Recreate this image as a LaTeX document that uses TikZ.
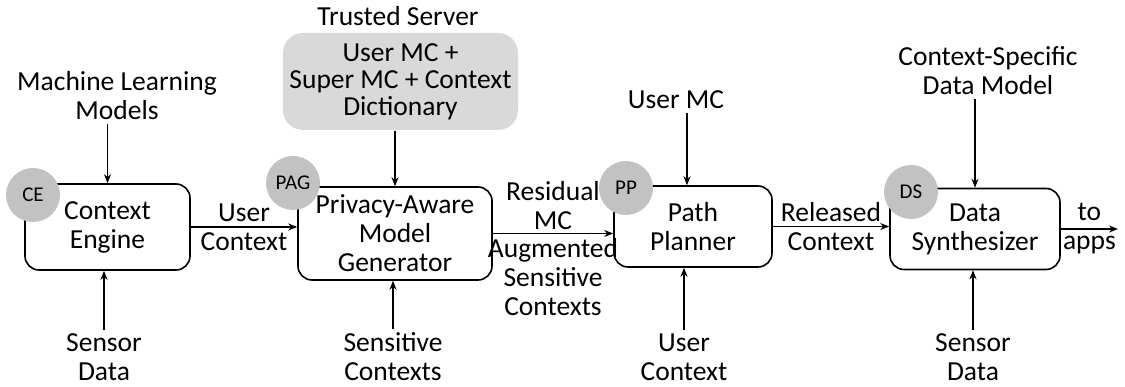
\documentclass[tikz,border=0pt]{standalone}
\usepackage{fontspec}
\setmainfont{Carlito}
\usetikzlibrary{arrows.meta}

\tikzset{
  block/.style={draw, line width=1.6pt, rounded corners=14pt, align=center},
  badge/.style={circle, fill=gray!48, minimum size=54pt, inner sep=0pt, font=\fontsize{21}{23}\selectfont},
  lbl/.style={align=center},
  flow/.style={-{Stealth[length=9pt,width=7pt]}, line width=1.2pt}
}

\begin{document}
\begin{tikzpicture}[x=1pt,y=-1pt,font=\fontsize{27.5}{29}\selectfont]
\useasboundingbox (0,0) rectangle (1125,387);

% main pipeline blocks
\node[block, minimum width=165pt, minimum height=86pt] (ce) at (107.5,227) {Context\\Engine};
\node[block, minimum width=194pt, minimum height=93pt] (pag) at (395,233.5) {Privacy-Aware\\Model\\Generator};
\node[block, minimum width=158pt, minimum height=81pt] (pp) at (693,226.5) {Path\\Planner};
\node[block, minimum width=170pt, minimum height=81pt] (ds) at (975,229) {Data\\Synthesizer};

% trusted server
\node (trusted) at (398,16) {Trusted Server};
\node[block, draw=none, fill=gray!30, rounded corners=20pt, minimum width=235pt, minimum height=97pt,
  font=\fontsize{27.5}{27}\selectfont] (server) at (400.5,81.5) {User MC +\\Super MC + Context\\Dictionary};

% badges on the block corners
\node[badge] (ceb) at (33,195) {CE};
\node[badge] (pagb) at (293,183) {PAG};
\node[badge] (ppb) at (626,188) {PP};
\node[badge] (dsb) at (911,192) {DS};

% inputs from above
\node[lbl] (ml) at (117,96) {Machine Learning\\Models};
\node[lbl] (umc) at (676,100) {User MC};
\node[lbl] (csdm) at (988,71) {Context-Specific\\Data Model};

% inputs from below
\node[lbl] (sd1) at (104,357) {Sensor\\Data};
\node[lbl] (sens) at (393,357) {Sensitive\\Contexts};
\node[lbl] (uctx) at (684,357) {User\\Context};
\node[lbl] (sd2) at (973,357) {Sensor\\Data};

\draw[flow] (ml.south -| ce.north) -- (ce.north);
\draw[flow] (server.south -| pag.north) -- (pag.north);
\draw[flow] ([xshift=-6pt]pp.north |- umc.south) -- ([xshift=-6pt]pp.north);
\draw[flow] (csdm.south -| ds.north) -- (ds.north);

\draw[flow] (sd1.north) -- (sd1.north |- ce.south);
\draw[flow] (sens.north) -- (sens.north |- pag.south);
\draw[flow] (uctx.north) -- (uctx.north |- pp.south);
\draw[flow] (sd2.north) -- (sd2.north |- ds.south);

% data flow between the blocks
\coordinate (apps) at (1118,229);
\draw[flow] (ce.east) -- (ce.east -| pag.west) node[midway, lbl] {User\\Context};
\draw[flow] (pag.east) -- (pag.east -| pp.west)
  node[midway, above, lbl] {Residual\\MC}
  node[midway, below, lbl, yshift=-1pt] {Augmented\\Sensitive\\Contexts};
\draw[flow] (pp.east) -- (pp.east -| ds.west) node[midway, lbl] {Released\\Context};
\draw[flow] (ds.east) -- (apps) node[midway, lbl] {to\\apps};
\end{tikzpicture}
\end{document}
